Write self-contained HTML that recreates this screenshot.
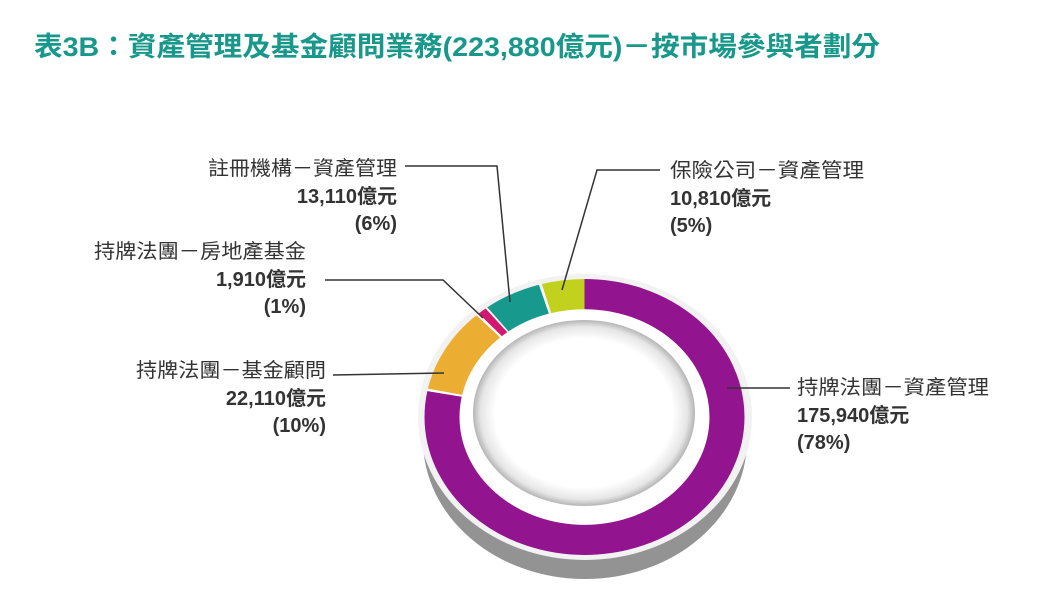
<!DOCTYPE html>
<html><head><meta charset="utf-8"><style>
body{margin:0;width:1042px;height:598px;background:#fff;overflow:hidden;font-family:"Liberation Sans","Noto Sans CJK TC",sans-serif;}
</style></head><body>
<svg width="1042" height="598" xmlns="http://www.w3.org/2000/svg" style="position:absolute;left:0;top:0">
<defs>
<radialGradient id="hole" cx="0.5" cy="0.5" r="0.5">
<stop offset="0.8" stop-color="#ffffff"/><stop offset="0.93" stop-color="#e6e6e6"/><stop offset="1" stop-color="#b5b5b5"/>
</radialGradient>
</defs>
<text x="34" y="56" font-size="27" font-weight="bold" fill="#17988b" textLength="846" lengthAdjust="spacingAndGlyphs" font-family="Liberation Sans,Noto Sans CJK TC,sans-serif">表3B：資產管理及基金顧問業務(223,880億元)－按市場參與者劃分</text>
<ellipse cx="585" cy="440" rx="162" ry="139" fill="#939393"/>
<rect x="423" y="417" width="324" height="23" fill="#939393"/>
<ellipse cx="585" cy="417" rx="167" ry="143" fill="#f2f2f2"/>
<g transform="translate(584.5,417) scale(1,0.8625)">
<circle r="160" fill="#fff"/>
<g transform="rotate(-90)" fill="none" stroke-width="35">
<circle r="142.5" pathLength="100" stroke="#93148f" stroke-dasharray="78 22" stroke-dashoffset="0"/>
<circle r="142.5" pathLength="100" stroke="#ecae32" stroke-dasharray="9.9 90.1" stroke-dashoffset="-78.3"/>
<circle r="142.5" pathLength="100" stroke="#d5186f" stroke-dasharray="0.9 99.1" stroke-dashoffset="-88.5"/>
<circle r="142.5" pathLength="100" stroke="#179a8d" stroke-dasharray="5.8 94.2" stroke-dashoffset="-89.6"/>
<circle r="142.5" pathLength="100" stroke="#c2d11d" stroke-dasharray="4.3 95.7" stroke-dashoffset="-95.7"/>
</g>
</g>
<ellipse cx="584" cy="413" rx="111" ry="93" fill="url(#hole)"/>
<g stroke="#333" stroke-width="1.5" fill="none">
<polyline points="405,166 497,166 510,302"/>
<polyline points="660,170 597,170 562,290"/>
<polyline points="325,280 443,280 483,318"/>
<polyline points="333,375 444,373"/>
<polyline points="727,388 790,388"/>
</g>
<g font-size="20" fill="#333" font-family="Liberation Sans,Noto Sans CJK TC,sans-serif">
<g text-anchor="end">
<text x="397" y="175" textLength="189" lengthAdjust="spacingAndGlyphs">註冊機構－資產管理</text>
<text x="397" y="203" font-weight="bold">13,110億元</text>
<text x="397" y="230" font-weight="bold">(6%)</text>
<text x="306" y="258" textLength="212" lengthAdjust="spacingAndGlyphs">持牌法團－房地產基金</text>
<text x="306" y="286" font-weight="bold">1,910億元</text>
<text x="306" y="313" font-weight="bold">(1%)</text>
<text x="326" y="377" textLength="190" lengthAdjust="spacingAndGlyphs">持牌法團－基金顧問</text>
<text x="326" y="405" font-weight="bold">22,110億元</text>
<text x="326" y="432" font-weight="bold">(10%)</text>
</g>
<text x="670" y="177" textLength="194" lengthAdjust="spacingAndGlyphs">保險公司－資產管理</text>
<text x="670" y="205" font-weight="bold">10,810億元</text>
<text x="670" y="232" font-weight="bold">(5%)</text>
<text x="797" y="394" textLength="192" lengthAdjust="spacingAndGlyphs">持牌法團－資產管理</text>
<text x="797" y="422" font-weight="bold">175,940億元</text>
<text x="797" y="449" font-weight="bold">(78%)</text>
</g>
</svg>
</body></html>
